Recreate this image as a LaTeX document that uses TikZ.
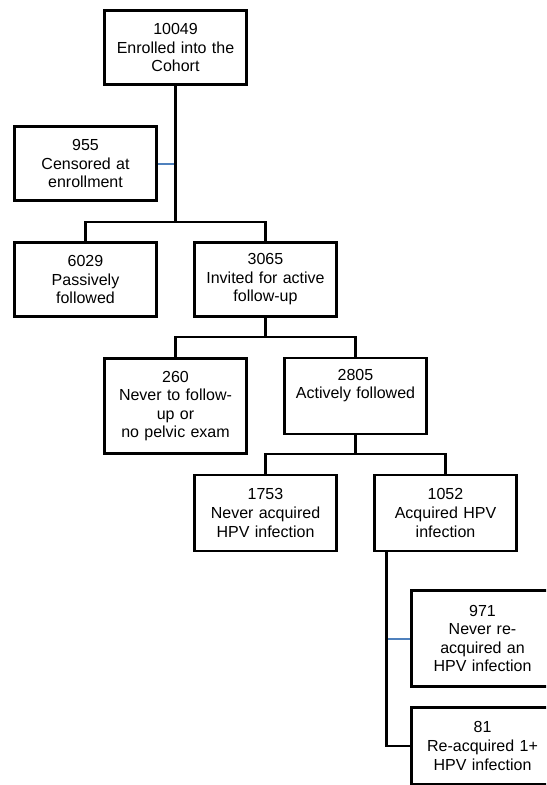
\documentclass[tikz,border=0pt]{standalone}
\usepackage{fontspec}
\setmainfont{Liberation Sans}
\definecolor{linkblue}{HTML}{4F81BD}
\usetikzlibrary{calc}

\begin{document}
\begin{tikzpicture}[x=0.75pt, y=-0.75pt,
    cohortbox/.style={draw, line width=2.1pt, fill=white, minimum width=106.5pt,
      minimum height=#1, text width=100pt, align=center, inner sep=0pt,
      font=\fontsize{12}{13.9}\selectfont},
    cohortbox/.default=55.7pt,
    link/.style={line width=2pt},
    sidelink/.style={line width=1.5pt, color=linkblue}]
  \clip (0,0) rectangle (546,785);

  % Boxes
  \node[cohortbox] (enroll) at (175.5,47.5) {10049\\Enrolled into the\\Cohort};
  \node[cohortbox] (censored) at (85.5,163.5) {955\\Censored at\\enrollment};
  \node[cohortbox] (passive) at (85.5,279.5) {6029\\Passively\\followed};
  \node[cohortbox] (invited) at (265.5,279.5) {3065\\Invited for active\\follow-up};
  \node[cohortbox=71.5pt] (nofollow) at (175.5,406) {260\\Never to follow-\\up or\\no pelvic exam};
  \node[cohortbox=57pt] (active) at (355.5,396) {2805\\Actively followed\\\strut};
  \node[cohortbox=57pt] (neveracq) at (265.5,513) {1753\\Never acquired\\HPV infection};
  \node[cohortbox=57pt] (acquired) at (445.5,513) {1052\\Acquired HPV\\infection};
  \node[cohortbox=71.5pt] (neverre) at (482.5,638.5) {971\\Never re-\\acquired an\\HPV infection};
  \node[cohortbox=58pt] (reacq) at (482.5,746) {81\\Re-acquired 1+\\HPV infection};

  % Junctions
  \coordinate (split1) at (175.5,222);
  \coordinate (split2) at (265.5,337);
  \coordinate (split3) at (355.5,454);
  \coordinate (stem) at (386.5,552);

  % Side exits
  \draw[sidelink] (censored) -- (censored -| split1);
  \draw[sidelink] (neverre) -- (neverre -| stem);

  % Tree links
  \draw[link] (enroll) -- (split1);
  \draw[link] (passive) |- (split1) -| (invited);
  \draw[link] (invited) -- (split2);
  \draw[link] (nofollow) |- (split2) -| (active);
  \draw[link] (active) -- (split3);
  \draw[link] (neveracq) |- (split3) -| (acquired);
  \draw[link] (stem) |- (reacq);
\end{tikzpicture}
\end{document}
